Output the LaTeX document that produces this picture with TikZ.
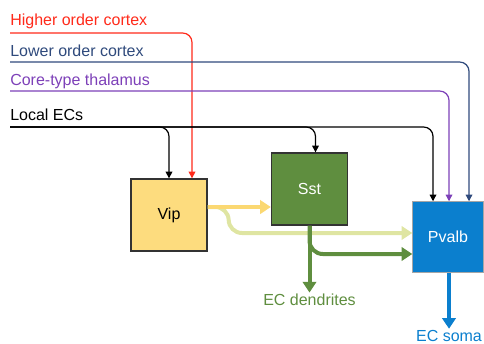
\documentclass[tikz,border=0pt]{standalone}
\usepackage{fontspec}
\setmainfont{Liberation Sans}
\usetikzlibrary{arrows.meta}

\definecolor{hocred}{HTML}{FF2A1A}
\definecolor{locblue}{HTML}{2F4A7C}
\definecolor{thalpurple}{HTML}{7D40B8}
\definecolor{vipyellow}{HTML}{FDDC7E}
\definecolor{vipline}{HTML}{FBD872}
\definecolor{mixgreen}{HTML}{DFE5A2}
\definecolor{sstgreen}{HTML}{5F8E3F}
\definecolor{pvblue}{HTML}{0B7FCE}

\begin{document}
\begin{tikzpicture}[x=0.75pt,y=-0.75pt,
    cell/.style={draw=black!80, line width=1pt, minimum width=57pt, minimum height=54pt,
      inner sep=0pt, font=\fontsize{12}{14}\selectfont},
    src/.style={anchor=base west, inner sep=0pt, font=\fontsize{12}{14}\selectfont},
    target/.style={inner sep=1pt, font=\fontsize{12}{14}\selectfont},
    feed/.style={line width=0.9pt, rounded corners=7pt, -{Triangle[length=5pt,width=5pt]}},
    axon/.style={line width=3pt, rounded corners=10pt, -{Triangle[length=8pt,width=10pt]}}]
      \useasboundingbox (0,0) rectangle (484,343);
      % Draw the input labels
      \node[src, hocred] (hoc) at (10,25) {Higher order cortex};
      \node[src, locblue] (loc) at (10,56) {Lower order cortex};
      \node[src, thalpurple] (thal) at (10,85) {Core-type thalamus};
      \node[src] (lec) at (10,120) {Local ECs};
      \coordinate (hocin) at (10,33);
      \coordinate (locin) at (10,62);
      \coordinate (thalin) at (10,91);
      \coordinate (lecin) at (10,127);
      % Draw the cell boxes
      \node[cell, fill=vipyellow] (vip) at (169,215) {Vip};
      \node[cell, fill=sstgreen, text=white] (sst) at (309.5,189) {Sst};
      \node[cell, fill=pvblue, draw=gray!70, line width=0.6pt, text=white,
        minimum width=53pt, minimum height=53pt] (pvalb) at (448,237) {Pvalb};
      % Draw the output labels
      \node[target, sstgreen] (dend) at (309.5,300) {EC dendrites};
      \node[target, pvblue] (soma) at (449,336) {EC soma};
      % Draw the long range inputs
      \draw[feed, hocred] (hocin) -| ([xshift=17.25pt]vip.north);
      \draw[feed, locblue] (locin) -| ([xshift=15.75pt]pvalb.north);
      \draw[feed, thalpurple] (thalin) -| ([xshift=0.75pt]pvalb.north);
      % Draw the local inputs
      \draw[feed] (lecin) -| (vip.north);
      \draw[feed] (lecin) -| ([xshift=4.5pt]sst.north);
      \draw[feed] (lecin) -| ([xshift=-11.25pt]pvalb.north);
      % Draw the cell outputs
      \draw[axon, mixgreen] ([yshift=6pt]vip.east) -- ++(21,0) |- ([yshift=3pt]pvalb.west);
      \draw[axon, vipline] ([yshift=6pt]vip.east) -- ([yshift=6pt]vip.east -| sst.west);
      \draw[axon, sstgreen] (sst.south) |- ([yshift=-12.75pt]pvalb.west);
      \draw[axon, sstgreen] (sst.south) -- (dend.north);
      \draw[axon, pvblue] (pvalb.south -| soma.north) -- (soma.north);
\end{tikzpicture}
\end{document}
